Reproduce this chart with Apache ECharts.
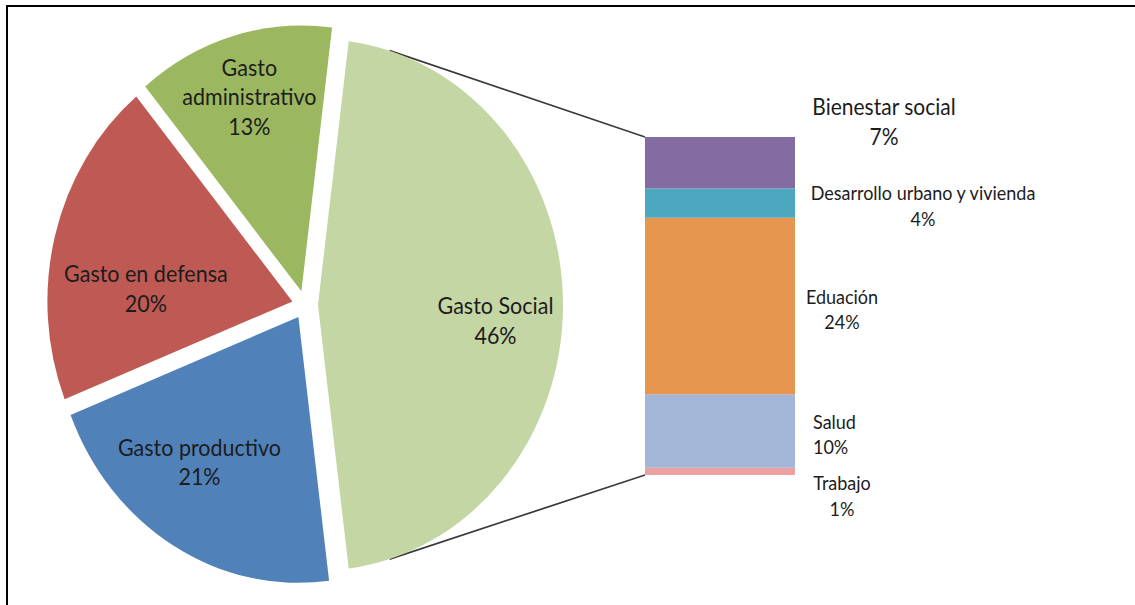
<!DOCTYPE html>
<html>
<head>
<meta charset="utf-8">
<script src="https://cdn.jsdelivr.net/npm/echarts@6/dist/echarts.min.js"></script>
<style>
html,body{margin:0;padding:0;background:#fff;overflow:hidden;width:1135px;height:605px;}
#chart{width:1135px;height:557.6px;transform:scaleY(1.085);transform-origin:0 0;}
</style>
</head>
<body>
<div id="chart"></div>
<script>
// ---------- DATA ----------
const mainCategories = ['Gasto Social', 'Gasto productivo', 'Gasto en defensa', 'Gasto administrativo'];
const mainValues = [46, 21, 20, 13];
const socialCategories = ['Trabajo', 'Salud', 'Eduación', 'Desarrollo urbano y vivienda', 'Bienestar social'];
const socialValues = [1, 10, 24, 4, 7];

// ---------- STYLE / LAYOUT ----------
const K = 1.085;                       // vertical stretch of the reference picture
const FONT = 'Lato, "Open Sans", sans-serif';
const TEXT = '#1c1c1c';
const mainColors = ['#C4D6A4', '#5082B9', '#BE5A53', '#9BB760'];
const socialColors = ['#ECA0A0', '#A3B6D7', '#E5954D', '#4CA8BE', '#836CA2'];
const pieCenter = [305, 281];
const pieRadius = 245;
const explode = 13;
const pieLabelShift = [[52, 14], [-35, 25.5], [-25, 19], [-17, -59]];
const pieLabelText = ['Gasto Social', 'Gasto productivo', 'Gasto en defensa', 'Gasto\nadministrativo'];
const barGrid = {left: 645, top: 126.3, width: 150, height: 311.5};
const barLabelStyles = [
  {align: 'center', offset: [47, 22], fontSize: 18, lineHeight: 23.5},
  {align: 'left', offset: [18, 2.5], fontSize: 18, lineHeight: 23.5},
  {align: 'center', offset: [47, 2.5], fontSize: 18, lineHeight: 23.5},
  {align: 'center', offset: [128, 2], fontSize: 18, lineHeight: 23.5},
  {align: 'center', offset: [89, -38], fontSize: 21, lineHeight: 27.5}
];
const connectorAngle = 73;

const total = mainValues.reduce((a, b) => a + b, 0);
const socialTotal = socialValues.reduce((a, b) => a + b, 0);
const realStart = mainValues[0] / total * 180;   // centre the first slice on the east

const chart = echarts.init(document.getElementById('chart'), null, {renderer: 'svg'});

const pieData = mainCategories.map((name, i) => ({
  name: name,
  value: mainValues[i],
  selected: true,
  itemStyle: {color: mainColors[i]},
  label: {formatter: pieLabelText[i] + '\n' + mainValues[i] + '%'}
}));

const barSeries = socialCategories.map((name, i) => ({
  type: 'bar',
  name: name,
  stack: 'social',
  barWidth: '100%',
  silent: true,
  data: [socialValues[i]],
  itemStyle: {color: socialColors[i]},
  label: {
    show: true,
    position: 'right',
    distance: 0,
    verticalAlign: 'middle',
    align: barLabelStyles[i].align,
    offset: barLabelStyles[i].offset,
    fontSize: barLabelStyles[i].fontSize,
    lineHeight: barLabelStyles[i].lineHeight,
    fontFamily: FONT,
    color: TEXT,
    formatter: name + '\n' + socialValues[i] + '%'
  }
}));

chart.setOption({
  animation: false,
  backgroundColor: '#ffffff',
  grid: Object.assign({}, barGrid),
  xAxis: {type: 'category', data: [''], show: false},
  yAxis: {type: 'value', min: 0, max: socialTotal, show: false},
  series: [
    {
      type: 'pie',
      center: pieCenter,
      radius: [0, pieRadius],
      startAngle: realStart,
      clockwise: true,
      selectedMode: 'multiple',
      selectedOffset: explode,
      silent: true,
      emphasis: {disabled: true},
      labelLine: {show: false},
      label: {
        show: true,
        position: 'inside',
        fontFamily: FONT,
        fontSize: 21.5,
        lineHeight: 27,
        color: TEXT
      },
      labelLayout: function (p) {
        const s = pieLabelShift[p.dataIndex];
        return {dx: s[0], dy: s[1]};
      },
      data: pieData
    }
  ].concat(barSeries)
});

// connector lines from the Social slice to the bar
const rad = Math.PI / 180;
const midSocial = realStart - mainValues[0] / total * 180; // = 0 (east)
const vx = pieCenter[0] + explode * Math.cos(midSocial * rad);
const vy = pieCenter[1] - explode * Math.sin(midSocial * rad);
const topPt = [vx + pieRadius * Math.cos(connectorAngle * rad), vy - pieRadius * Math.sin(connectorAngle * rad)];
const botPt = [vx + pieRadius * Math.cos(connectorAngle * rad), vy + pieRadius * Math.sin(connectorAngle * rad)];
const barTop = chart.convertToPixel({yAxisIndex: 0}, socialTotal);
const barBot = chart.convertToPixel({yAxisIndex: 0}, 0);

chart.setOption({
  graphic: [
    {type: 'line', shape: {x1: topPt[0], y1: topPt[1], x2: barGrid.left, y2: barTop}, style: {stroke: '#3a3a3a', lineWidth: 1.6}, silent: true},
    {type: 'line', shape: {x1: botPt[0], y1: botPt[1], x2: barGrid.left, y2: barBot}, style: {stroke: '#3a3a3a', lineWidth: 1.6}, silent: true},
    {type: 'rect', shape: {x: 7, y: 5.5, width: 1300, height: 800}, style: {fill: 'none', stroke: '#000000', lineWidth: 2}, silent: true}
  ]
});
</script>
</body>
</html>
